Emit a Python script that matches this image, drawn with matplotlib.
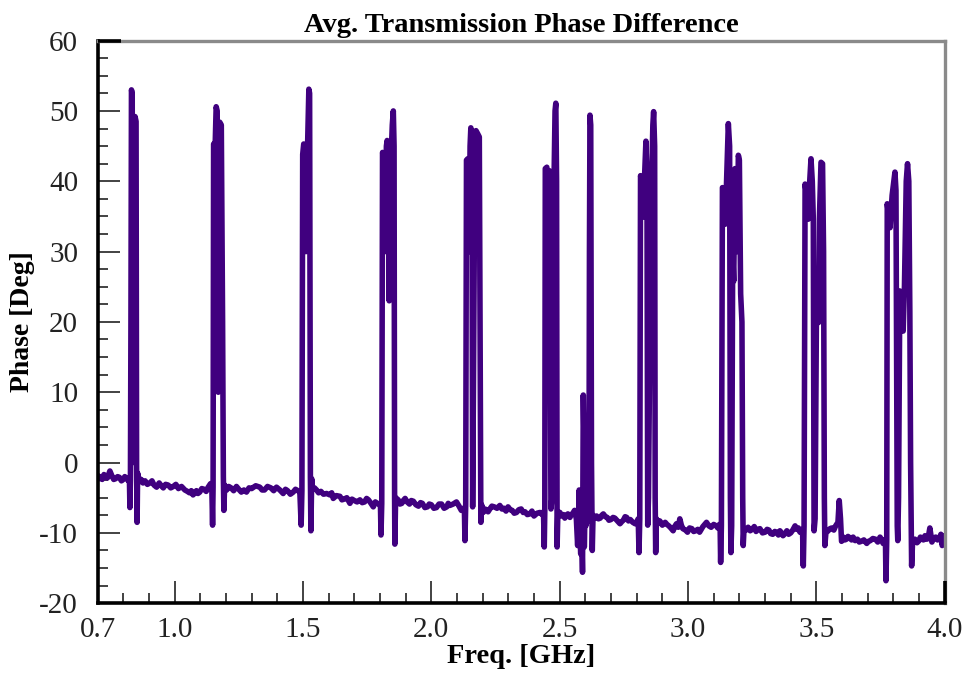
import matplotlib
matplotlib.use("Agg")
import matplotlib.pyplot as plt
from matplotlib.ticker import MultipleLocator, FixedLocator

plt.rcParams['font.family'] = ['Liberation Serif', 'DejaVu Serif']
plt.rcParams['axes.unicode_minus'] = False

freq = [
    0.700, 0.706, 0.712, 0.718, 0.725, 0.731, 0.738, 0.748, 0.756, 0.763, 0.770, 0.778, 0.785,
    0.793, 0.800, 0.806, 0.812, 0.820,
    0.824, 0.826, 0.828, 0.830, 0.832, 0.835, 0.837, 0.840, 0.846, 0.850, 0.852, 0.854, 0.856, 0.860,
    0.865, 0.870, 0.877, 0.885, 0.894, 0.904, 0.912, 0.920, 0.930, 0.940, 0.948, 0.956, 0.965, 0.975,
    0.985, 0.995, 1.005, 1.015, 1.027, 1.040, 1.050, 1.058, 1.065, 1.072, 1.085, 1.091, 1.098,
    1.106, 1.115, 1.123, 1.131, 1.140,
    1.145, 1.148, 1.150, 1.152, 1.158, 1.162, 1.166, 1.170, 1.176, 1.182, 1.187, 1.190, 1.192, 1.195,
    1.203, 1.211, 1.220, 1.230, 1.241, 1.250, 1.260, 1.270, 1.280, 1.290, 1.300, 1.316, 1.332, 1.341,
    1.350, 1.362, 1.375, 1.386, 1.397, 1.410, 1.423, 1.432, 1.440, 1.451, 1.462, 1.471, 1.480,
    1.488, 1.493, 1.496, 1.499, 1.503, 1.508, 1.512, 1.518, 1.523, 1.526, 1.529, 1.531, 1.534, 1.537,
    1.545, 1.553, 1.561, 1.570, 1.580, 1.592, 1.605, 1.612, 1.618, 1.630, 1.644, 1.652, 1.660, 1.671,
    1.683, 1.691, 1.700, 1.711, 1.722, 1.731, 1.740, 1.748, 1.755, 1.765, 1.774, 1.782, 1.790, 1.799,
    1.802, 1.804, 1.807, 1.810, 1.815, 1.820, 1.825, 1.828, 1.833, 1.836, 1.840, 1.848, 1.852, 1.855,
    1.857, 1.858, 1.861,
    1.871, 1.878, 1.885, 1.891, 1.898, 1.906, 1.915, 1.922, 1.930, 1.940, 1.950, 1.958, 1.965, 1.975,
    1.985, 1.992, 2.000, 2.010, 2.020, 2.030, 2.040, 2.050, 2.060, 2.066, 2.072, 2.085, 2.098, 2.108,
    2.117, 2.125,
    2.129, 2.131, 2.134, 2.137, 2.142, 2.147, 2.151, 2.154, 2.158, 2.161, 2.164, 2.170, 2.174, 2.180,
    2.187, 2.190, 2.193, 2.196,
    2.202, 2.208, 2.215, 2.221, 2.228, 2.236, 2.245, 2.256, 2.267, 2.275, 2.283, 2.291, 2.299, 2.307,
    2.315, 2.323, 2.332, 2.341, 2.350, 2.358, 2.365, 2.374, 2.384, 2.392, 2.400, 2.412, 2.423, 2.432,
    2.437, 2.440, 2.442, 2.444, 2.450, 2.456, 2.460, 2.463, 2.466, 2.470, 2.476, 2.482, 2.485, 2.488,
    2.490, 2.493,
    2.501, 2.508, 2.515, 2.520, 2.525, 2.532, 2.540, 2.545, 2.550, 2.558,
    2.565, 2.570, 2.573, 2.576, 2.579, 2.582, 2.584, 2.586, 2.589, 2.591, 2.592, 2.594, 2.596, 2.598,
    2.602, 2.606, 2.610, 2.614, 2.616, 2.618, 2.621, 2.624, 2.627, 2.630,
    2.637, 2.644, 2.651, 2.658, 2.664, 2.670, 2.678, 2.685, 2.692, 2.700, 2.708, 2.715, 2.725, 2.735,
    2.742, 2.748, 2.755, 2.761, 2.768, 2.775, 2.785, 2.794, 2.802,
    2.806, 2.809, 2.812, 2.815, 2.820, 2.824, 2.830, 2.836, 2.840, 2.843, 2.846, 2.855, 2.863, 2.866,
    2.870, 2.872, 2.874, 2.877,
    2.883, 2.890, 2.900, 2.911, 2.918, 2.925, 2.933, 2.942, 2.948, 2.955, 2.962, 2.968, 2.974, 2.980,
    2.990, 2.998, 3.006, 3.015, 3.022, 3.030, 3.038, 3.045, 3.058, 3.072, 3.081, 3.090, 3.100, 3.110,
    3.116, 3.122,
    3.125, 3.127, 3.130, 3.134, 3.140, 3.145, 3.150, 3.157, 3.162, 3.165, 3.167, 3.170, 3.174, 3.178,
    3.183, 3.188, 3.192, 3.196, 3.200, 3.205, 3.210, 3.213, 3.215, 3.218,
    3.226, 3.234, 3.242, 3.250, 3.258, 3.265, 3.272, 3.280, 3.290, 3.300, 3.308, 3.315, 3.322, 3.330,
    3.338, 3.345, 3.352, 3.358, 3.364, 3.370, 3.378, 3.385, 3.392, 3.400, 3.408, 3.417, 3.424, 3.430,
    3.436, 3.440,
    3.446, 3.449, 3.452, 3.456, 3.462, 3.468, 3.474, 3.479, 3.484, 3.488, 3.491, 3.495, 3.500, 3.508,
    3.512, 3.518, 3.524, 3.528, 3.531, 3.533, 3.537,
    3.546, 3.553, 3.560, 3.568, 3.575, 3.584, 3.589, 3.594, 3.598, 3.605, 3.611, 3.617, 3.623, 3.630,
    3.637, 3.643, 3.651, 3.660, 3.667, 3.675, 3.685, 3.696, 3.703, 3.710, 3.720, 3.730, 3.739, 3.748,
    3.755, 3.760, 3.766,
    3.769, 3.771, 3.774, 3.776, 3.782, 3.787, 3.795, 3.806, 3.810, 3.813, 3.815, 3.817, 3.820, 3.825,
    3.833, 3.838, 3.843, 3.850, 3.855, 3.860, 3.864, 3.867, 3.871, 3.875,
    3.884, 3.892, 3.900, 3.905, 3.910, 3.917, 3.923, 3.930, 3.935, 3.942, 3.950, 3.958, 3.965, 3.972,
    3.978, 3.985, 3.990, 3.995, 4.000,
]

phase = [
    -1.8, -2.3, -2.0, -2.4, -1.7, -2.1, -2.2, -1.2, -1.9, -2.4, -2.3, -2.0, -2.1,
    -2.6, -2.4, -2.0, -2.2, -2.6,
    -2.3, -6.4, -2.5, 20.0, 53.0, 52.5, 0.0, 30.0, 49.2, 48.5, -0.5, -8.5, -1.5, -2.2,
    -2.7, -2.4, -2.9, -2.6, -3.1, -2.9, -2.6, -3.2, -3.5, -2.9, -3.3, -3.6, -3.1, -3.2,
    -3.6, -3.4, -3.1, -3.7, -3.4, -3.9, -4.1, -4.3, -4.0, -4.6, -4.0, -4.4, -4.2,
    -3.7, -3.8, -4.1, -3.5, -3.0,
    -3.4, -8.9, -3.5, 45.3, 45.0, 50.6, 50.0, 10.0, 48.4, 48.0, 20.0, -2.0, -6.8, -3.2,
    -3.9, -3.4, -3.6, -4.0, -3.4, -3.8, -4.2, -3.9, -4.2, -3.6, -3.7, -3.3, -3.5, -3.9,
    -3.9, -3.4, -3.6, -4.0, -3.5, -3.9, -4.4, -3.8, -4.0, -4.5, -4.2, -3.8, -4.0,
    -4.2, -8.9, -4.0, 43.8, 45.3, 45.0, 30.0, 45.0, 53.1, 52.5, -2.0, -9.7, -2.3, -3.8,
    -3.6, -3.9, -4.3, -4.1, -4.5, -4.4, -4.6, -4.3, -5.1, -4.7, -4.8, -5.3, -5.2, -5.0,
    -5.8, -5.2, -5.4, -5.6, -5.3, -5.7, -5.6, -5.1, -5.3, -5.8, -6.3, -5.6, -5.8, -6.0,
    -6.2, -10.3, -5.8, 44.1, 43.5, 30.0, 45.0, 45.8, 44.0, 23.0, 40.0, 48.0, 50.0, 45.0,
    -5.0, -11.6, -5.0,
    -5.3, -5.9, -5.8, -5.4, -5.1, -5.6, -5.9, -5.4, -5.5, -6.0, -6.2, -5.7, -5.8, -6.4,
    -6.3, -5.9, -6.0, -6.5, -6.4, -5.9, -5.9, -6.5, -6.3, -5.8, -6.1, -5.9, -5.6, -6.2,
    -6.8, -6.5,
    -6.8, -11.1, -6.0, 43.0, 43.2, 30.0, 45.0, 47.6, 46.0, -6.3, 10.0, 46.0, 47.2, 46.8,
    46.3, 20.0, -8.5, -6.0,
    -7.1, -6.6, -6.7, -7.0, -6.6, -6.2, -6.3, -6.5, -6.1, -6.6, -6.5, -6.9, -6.3, -6.7,
    -6.8, -7.2, -7.1, -6.7, -6.6, -7.1, -7.0, -7.4, -7.3, -6.9, -7.6, -7.2, -7.1, -7.4,
    -7.0, -12.0, -7.0, 41.8, 42.0, 30.0, 41.5, 20.0, -6.6, -5.0, 35.0, 50.0, 51.1, 40.0,
    -12.0, -7.0,
    -7.1, -7.6, -7.4, -7.9, -7.6, -7.3, -7.8, -7.4, -7.3, -6.8,
    -8.0, -11.8, -8.5, -3.9, -10.0, -13.0, -5.0, -10.0, -15.6, 2.0, 9.6, 5.0, -12.0, -8.0,
    -9.0, -8.0, -8.4, -8.0, 30.0, 49.4, 48.0, 0.0, -12.5, -7.5,
    -7.9, -7.6, -8.0, -7.9, -7.5, -7.3, -7.7, -7.8, -8.2, -8.1, -7.8, -7.9, -8.3, -8.7,
    -8.4, -8.2, -7.7, -7.8, -8.3, -8.1, -8.5, -8.7, -8.3,
    -8.0, -12.8, -8.0, 40.8, 40.0, 34.9, 40.0, 45.7, 40.0, -8.9, -5.0, 35.0, 48.0, 49.9,
    45.0, -5.0, -12.8, -8.0,
    -8.6, -8.3, -8.9, -8.5, -8.8, -9.0, -9.3, -9.7, -9.1, -8.7, -9.2, -8.0, -8.9, -9.4,
    -9.6, -9.9, -9.3, -9.4, -9.8, -9.7, -9.5, -9.9, -9.1, -8.5, -9.0, -9.2, -8.8, -9.0,
    -9.3, -8.8,
    -9.0, -14.2, -9.0, 39.1, 39.0, 33.9, 40.0, 48.2, 45.0, -5.0, -12.8, -9.0, 30.0, 25.8,
    41.8, 38.0, 30.0, 43.7, 43.0, 24.0, 20.0, -5.0, -11.8, -9.5,
    -9.6, -9.2, -9.7, -9.5, -9.1, -9.8, -9.5, -9.4, -10.0, -9.9, -9.5, -9.6, -10.1, -10.2,
    -9.8, -9.9, -10.3, -9.7, -10.0, -10.4, -10.1, -9.7, -10.2, -10.0, -9.6, -9.0, -9.5, -9.3,
    -9.9, -9.6,
    -9.5, -14.7, -9.0, 39.6, 38.0, 34.6, 40.0, 43.2, 40.0, 34.6, -9.7, -8.0, 20.0, 19.9,
    35.0, 42.7, 42.5, 30.0, -5.0, -11.8, -10.0,
    -9.7, -9.4, -9.3, -9.6, -9.0, -8.5, -5.4, -8.0, -11.2, -10.6, -11.0, -10.9, -10.5, -10.7,
    -11.0, -10.6, -11.1, -10.9, -11.3, -11.2, -11.0, -11.5, -11.2, -11.1, -10.8, -10.9, -11.3, -10.6,
    -11.0, -11.5, -11.0,
    -11.0, -16.8, -11.0, 36.8, 35.0, 33.4, 38.0, 41.3, 38.7, 10.0, -9.0, -11.1, -5.0, 24.4,
    21.0, 18.7, 25.0, 40.0, 42.5, 40.0, 21.5, 0.0, -14.7, -11.0,
    -10.9, -11.4, -11.1, -10.6, -10.7, -11.0, -10.4, -10.9, -10.8, -9.3, -11.3, -10.7, -10.6, -11.0,
    -10.9, -10.2, -11.8, -10.9, -10.4,
]

x_ticks = [0.7, 1.0, 1.5, 2.0, 2.5, 3.0, 3.5, 4.0]
x_tick_labels = ['0.7', '1.0', '1.5', '2.0', '2.5', '3.0', '3.5', '4.0']
y_ticks = [-20, -10, 0, 10, 20, 30, 40, 50, 60]
y_tick_labels = ['-20', '-10', '0', '10', '20', '30', '40', '50', '60']

fig = plt.figure(figsize=(9.66, 6.77), dpi=100)
ax = fig.add_axes([0.101, 0.109, 0.877, 0.831])

ax.plot(freq, phase, color='#40007f', lw=4.0, solid_joinstyle='round', solid_capstyle='round')

ax.set_xlim(0.7, 4.0)
ax.set_ylim(-20, 60)
ax.xaxis.set_major_locator(FixedLocator(x_ticks))
ax.set_xticklabels(x_tick_labels)
ax.xaxis.set_minor_locator(MultipleLocator(0.1))
ax.yaxis.set_major_locator(FixedLocator(y_ticks))
ax.set_yticklabels(y_tick_labels)
ax.yaxis.set_minor_locator(MultipleLocator(2.5))

ax.tick_params(axis='both', which='major', direction='in', length=16, width=1.2,
               color='#222222', labelsize=21, labelcolor='#222222')
ax.tick_params(axis='both', which='minor', direction='in', length=7.5, width=1.2, color='#222222')
ax.tick_params(axis='y', which='both', pad=14, left=True, right=False)
ax.tick_params(axis='x', which='both', pad=10, bottom=True, top=False)

for s in ['left', 'bottom']:
    ax.spines[s].set_color('black')
    ax.spines[s].set_linewidth(2.6)
for s in ['top', 'right']:
    ax.spines[s].set_color('#8a8a8a')
    ax.spines[s].set_linewidth(2.4)

ax.plot([0, 0.028], [1, 1], transform=ax.transAxes, color='black', lw=2.6,
        clip_on=False, solid_capstyle='butt', zorder=5)
ax.plot([1, 1], [0, 0.04], transform=ax.transAxes, color='black', lw=2.6,
        clip_on=False, solid_capstyle='butt', zorder=5)

ax.set_title('Avg. Transmission Phase Difference', fontsize=20.5, fontweight='bold', pad=6)
ax.set_xlabel('Freq. [GHz]', fontsize=20.5, fontweight='bold', labelpad=1)
ax.set_ylabel('Phase [Deg]', fontsize=20, fontweight='bold', labelpad=3)

fig.savefig('out.png', dpi=100)
